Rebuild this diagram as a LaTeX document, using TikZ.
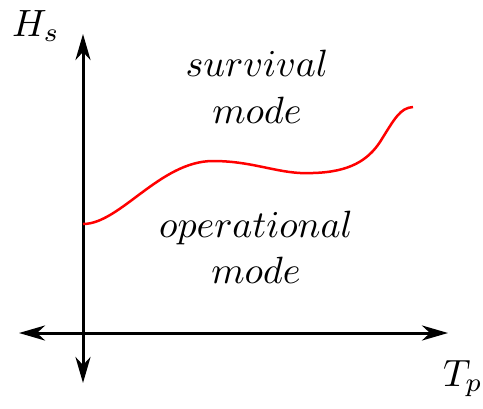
\documentclass[tikz,border=0pt]{standalone}
\usetikzlibrary{arrows.meta}
\tikzset{
  axis/.style={line width=3pt, {Stealth[length=26pt,width=15pt,inset=8pt]}-{Stealth[length=26pt,width=15pt,inset=8pt]}},
  boundary/.style={red, line width=2.5pt},
  lbl/.style={scale=3.8, inner sep=0pt, anchor=base}
}
\begin{document}
\begin{tikzpicture}[x=1pt,y=-1pt]
\useasboundingbox (0,0) rectangle (483,408);
\coordinate (ytop) at (83,34);
\coordinate (ybot) at (83,383);
\coordinate (xl) at (19,333);
\coordinate (xr) at (448,333);
\draw[axis] (ybot) -- (ytop);
\draw[axis] (xl) -- (xr);
\node[lbl] (hs) at (36,36) {$H_s$};
\node[lbl] (tp) at (463,386) {$T_p$};
\node[lbl] (s1) at (257,76) {$survival$};
\node[lbl] (s2) at (257,123) {$mode$};
\node[lbl] (o1) at (256,237) {$operational$};
\node[lbl] (o2) at (256,283) {$mode$};
\coordinate (c0) at (83,224);
\coordinate (c1) at (213,161);
\coordinate (c2) at (313,173);
\coordinate (c3) at (380,142);
\coordinate (c4) at (413,107);
\draw[boundary] (c0) .. controls (120,224) and (160,161) .. (c1)
  .. controls (255,161) and (280,175) .. (c2)
  .. controls (350,172) and (368,160) .. (c3)
  .. controls (395,118) and (400,108) .. (c4);
\end{tikzpicture}
\end{document}
